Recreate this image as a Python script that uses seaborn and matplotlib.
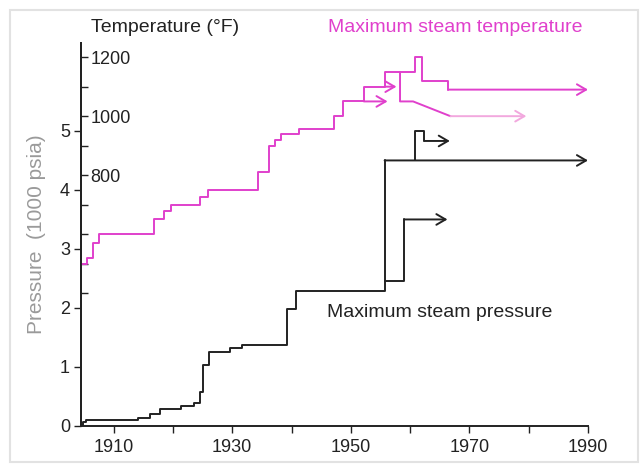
import matplotlib
matplotlib.use("Agg")
import matplotlib.pyplot as plt
import seaborn as sns
import pandas as pd
from matplotlib.patches import Rectangle

# ---------------- data ----------------
# maximum steam pressure, 1000 psia (step series)
press_years = [1904.5, 1904.8, 1905.4, 1914.1, 1916.2, 1917.9, 1921.3, 1923.5,
               1924.5, 1925.1, 1926.1, 1929.6, 1931.7, 1939.2, 1940.7, 1955.7]
press_vals = [0.02, 0.06, 0.10, 0.14, 0.20, 0.28, 0.34, 0.39,
              0.58, 1.03, 1.26, 1.32, 1.37, 1.98, 2.29, 4.50]
press_end = 1990
# branch: 5000 psi unit, derated
press_hi_years = [1960.8, 1960.8, 1962.4, 1962.4]
press_hi_vals = [4.50, 5.00, 5.00, 4.83]
press_hi_end = 1966.7
# branch: supercritical
press_lo_years = [1955.7, 1959.0, 1959.0]
press_lo_vals = [2.46, 2.46, 3.50]
press_lo_end = 1966.3

# maximum steam temperature, deg F (step series)
temp_years = [1904.5, 1905.5, 1906.5, 1907.6, 1916.8, 1918.5, 1919.6, 1924.6,
              1925.9, 1934.4, 1936.2, 1937.2, 1938.3, 1941.3, 1947.1, 1948.6,
              1952.2, 1955.7, 1960.9, 1962.0, 1966.4]
temp_vals = [500, 520, 570, 600, 650, 680, 700, 725,
             750, 810, 900, 920, 940, 955, 1000, 1050,
             1100, 1150, 1200, 1120, 1090]
temp_end = 1990
# short arrows leaving the staircase
temp_arrow_starts = [1952.2, 1955.7]
temp_arrow_ends = [1956.2, 1957.7]
temp_arrow_vals = [1050, 1100]
# derated branch
temp_drop_years = [1958.3, 1958.3, 1960.5, 1966.8]
temp_drop_vals = [1150, 1050, 1050, 1000]
temp_drop_end = 1979.6

pressure_ticks = [0, 1, 2, 3, 4, 5]
temp_ticks = [400, 500, 600, 700, 800, 900, 1000, 1100, 1200]
temp_labels = ["", "", "", "", "800", "", "1000", "", "1200"]
year_ticks = [1910, 1930, 1950, 1970, 1990]
year_minor = [1920, 1940, 1960, 1980]

# ---------------- style ----------------
sns.set_theme(style="white")
plt.rcParams['font.family'] = ['Liberation Sans', 'DejaVu Sans']

PINK = '#e040cc'
PINK_FADE = '#f2a8de'
BLACK = '#222222'
LW = 1.4
FS_TICK = 13
FS_TEXT = 14

fig = plt.figure(figsize=(6.44, 4.68), dpi=100)
ax = fig.add_axes([81 / 644, 42 / 468, (588 - 81) / 644, (426 - 43) / 468])

P_MAX = 6.49
ax.set_xlim(1904.5, 1990)
ax.set_ylim(0, P_MAX)


def p2t(p):
    return 200 * (p - 0.25)


ax2 = ax.twinx()
ax2.set_ylim(p2t(0), p2t(P_MAX))


def arrow(a, x0, x1, y, color):
    a.annotate('', xy=(x1, y), xytext=(x0, y),
               arrowprops=dict(arrowstyle='->,head_length=0.55,head_width=0.32',
                               color=color, lw=LW, shrinkA=0, shrinkB=0))


# ---------------- pressure (black) ----------------
df_p = pd.DataFrame({'year': press_years, 'p': press_vals})
sns.lineplot(data=df_p, x='year', y='p', ax=ax, color=BLACK, lw=LW,
             drawstyle='steps-post', estimator=None, sort=False)
arrow(ax, press_years[-1], press_end, press_vals[-1], BLACK)

sns.lineplot(x=press_hi_years, y=press_hi_vals, ax=ax, color=BLACK, lw=LW,
             estimator=None, sort=False)
arrow(ax, press_hi_years[-1], press_hi_end, press_hi_vals[-1], BLACK)

sns.lineplot(x=press_lo_years, y=press_lo_vals, ax=ax, color=BLACK, lw=LW,
             estimator=None, sort=False)
arrow(ax, press_lo_years[-1], press_lo_end, press_lo_vals[-1], BLACK)

# ---------------- temperature (pink) ----------------
df_t = pd.DataFrame({'year': temp_years, 't': temp_vals})
sns.lineplot(data=df_t, x='year', y='t', ax=ax2, color=PINK, lw=LW,
             drawstyle='steps-post', estimator=None, sort=False)
arrow(ax2, temp_years[-1], temp_end, temp_vals[-1], PINK)

for x0, x1, v in zip(temp_arrow_starts, temp_arrow_ends, temp_arrow_vals):
    arrow(ax2, x0, x1, v, PINK)

sns.lineplot(x=temp_drop_years, y=temp_drop_vals, ax=ax2, color=PINK, lw=LW,
             estimator=None, sort=False)
arrow(ax2, temp_drop_years[-1], temp_drop_end, temp_drop_vals[-1], PINK_FADE)

# ---------------- axes styling ----------------
for s in ['top', 'right']:
    ax.spines[s].set_visible(False)
for s in ['top', 'left', 'bottom']:
    ax2.spines[s].set_visible(False)
ax2.spines['right'].set_position(('axes', 0))
for sp in [ax.spines['left'], ax.spines['bottom'], ax2.spines['right']]:
    sp.set_color(BLACK)
    sp.set_linewidth(1.4)

ax.set_xticks(year_ticks)
ax.set_xticks(year_minor, minor=True)
ax.set_yticks(pressure_ticks)
ax.tick_params(axis='both', which='both', direction='out', colors=BLACK,
               labelsize=FS_TICK, width=1.0, length=5, pad=3, bottom=True, left=True)
ax.tick_params(axis='x', pad=4)

ax2.set_yticks(temp_ticks)
ax2.set_yticklabels(temp_labels)
ax2.tick_params(axis='y', direction='out', colors=BLACK, labelsize=FS_TICK,
                width=1.0, length=5, pad=2, right=True)
ax2.grid(False)
ax.grid(False)

ax.set_xlabel('')
ax2.set_ylabel('')
ax.set_ylabel('Pressure  (1000 psia)', fontsize=15, color='#9a9a9a', labelpad=10)

# ---------------- text labels ----------------
fig.text(91 / 644, 1 - 28 / 468, 'Temperature (°F)', fontsize=FS_TEXT,
         color=BLACK, va='center', ha='left')
fig.text(328 / 644, 1 - 28 / 468, 'Maximum steam temperature', fontsize=FS_TEXT,
         color=PINK, va='center', ha='left')
ax.text(1946.0, 1.93, 'Maximum steam pressure', fontsize=FS_TEXT,
        color=BLACK, va='center', ha='left')

# faint frame around the figure
fig.patches.append(Rectangle((10 / 644, 6 / 468), 628 / 644, 452 / 468,
                             transform=fig.transFigure, fill=False,
                             edgecolor='#e2e2e2', lw=1.5))

fig.savefig('out.png', dpi=100)
